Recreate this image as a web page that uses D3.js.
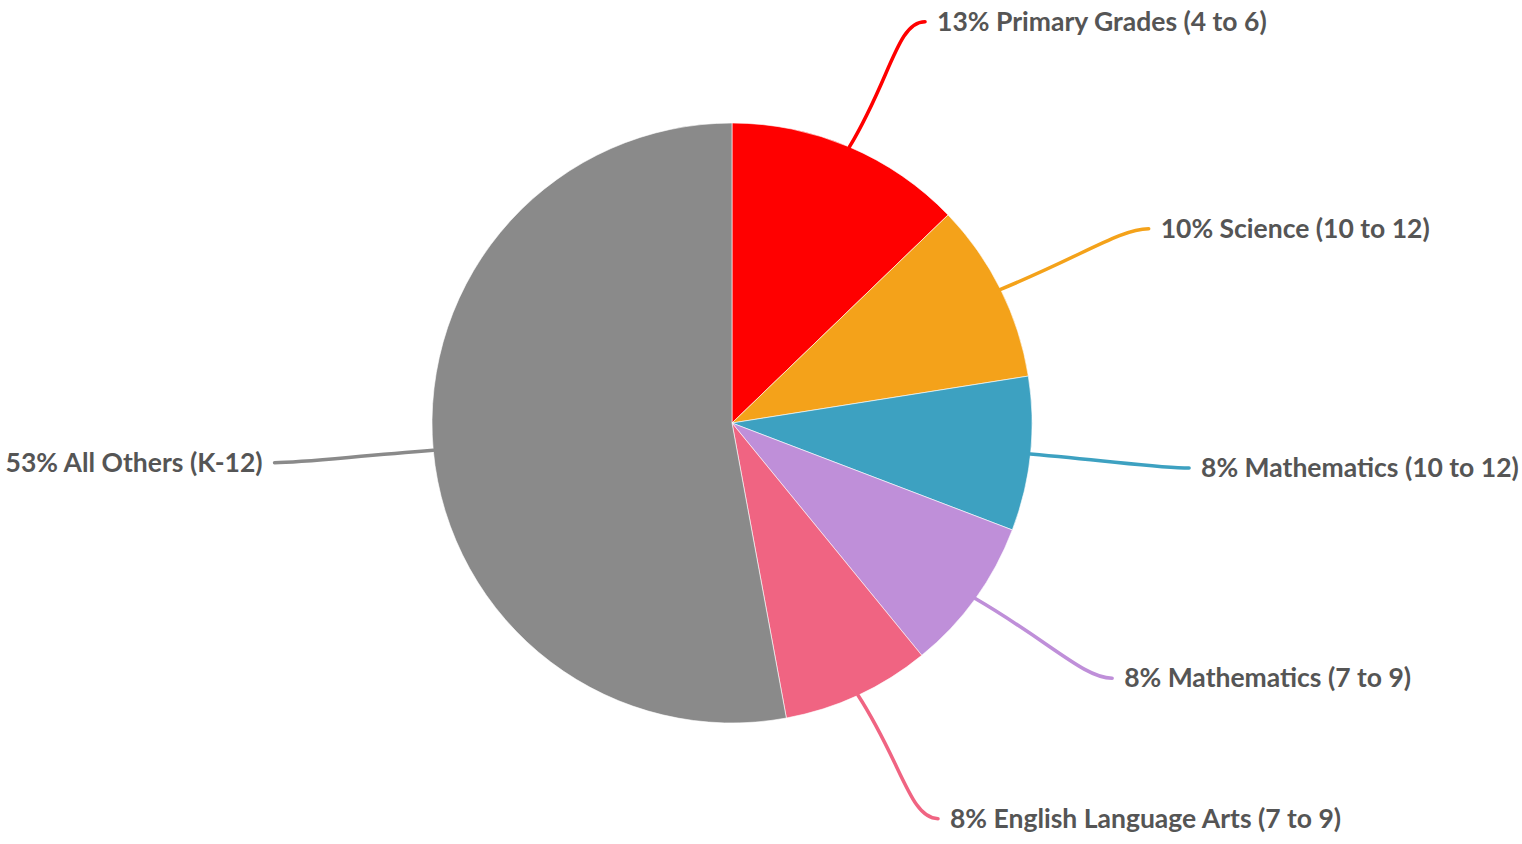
<!DOCTYPE html>
<html><head><meta charset="utf-8">
<script src="https://cdn.jsdelivr.net/npm/d3@7/dist/d3.min.js"></script>
<style>body{margin:0;background:#fff}svg{display:block}</style>
</head><body>
<svg id="c" width="1522" height="844"></svg>
<script>
const categories = ["Primary Grades (4 to 6)","Science (10 to 12)","Mathematics (10 to 12)","Mathematics (7 to 9)","English Language Arts (7 to 9)","All Others (K-12)"];
const values = [12.8, 9.7, 8.3, 8.3, 8.0, 52.9];
const percentLabels = ["13%","10%","8%","8%","8%","53%"];
const colors = ["#FF0000","#F4A21A","#3DA1C1","#BF8FD9","#F06482","#8A8A8A"];

const svg = d3.select("#c");
const cx = 732, cy = 423, R = 300, RLx = 458, RLy = 436, spread = 15;
const g = svg.append("g").attr("transform", `translate(${cx},${cy})`);
const data = categories.map((c,i)=>({c, v: values[i], p: percentLabels[i], col: colors[i]}));
const pie = d3.pie().sort(null).value(d=>d.v);
const arcs = pie(data);
const arc = d3.arc().innerRadius(0).outerRadius(R);

g.selectAll("path.slice").data(arcs).join("path").attr("class","slice")
  .attr("d", arc).attr("fill", d=>d.data.col).attr("stroke","#fff").attr("stroke-width",0.6);

function pt(a, r){ return [Math.sin(a)*r, -Math.cos(a)*r]; }
arcs.forEach(d=>{
  const m = (d.startAngle + d.endAngle)/2;
  const s = pt(m, R);
  const right = Math.sin(m) >= 0;
  const dir = right ? 1 : -1;
  const e = [Math.sin(m)*RLx + dir*Math.abs(Math.cos(m))*spread, -Math.cos(m)*RLy];
  const c1 = [s[0] + (e[0]-s[0])*0.55, s[1] + (e[1]-s[1])*0.55];
  const c2 = [e[0] - dir*28, e[1]];
  const path = d3.path();
  path.moveTo(s[0], s[1]);
  path.bezierCurveTo(c1[0], c1[1], c2[0], c2[1], e[0], e[1]);
  g.append("path").attr("d", path.toString()).attr("fill","none")
    .attr("stroke", d.data.col).attr("stroke-width", 3.5).attr("stroke-linecap","round");
  g.append("text").attr("x", e[0] + dir*12).attr("y", e[1])
    .attr("dy","0.35em").attr("text-anchor", right ? "start" : "end")
    .attr("font-family","Lato, 'Open Sans', sans-serif").attr("font-weight","bold")
    .attr("font-size", 26.5).attr("fill","#555555")
    .text(d.data.p + " " + d.data.c);
});
</script>
</body></html>
